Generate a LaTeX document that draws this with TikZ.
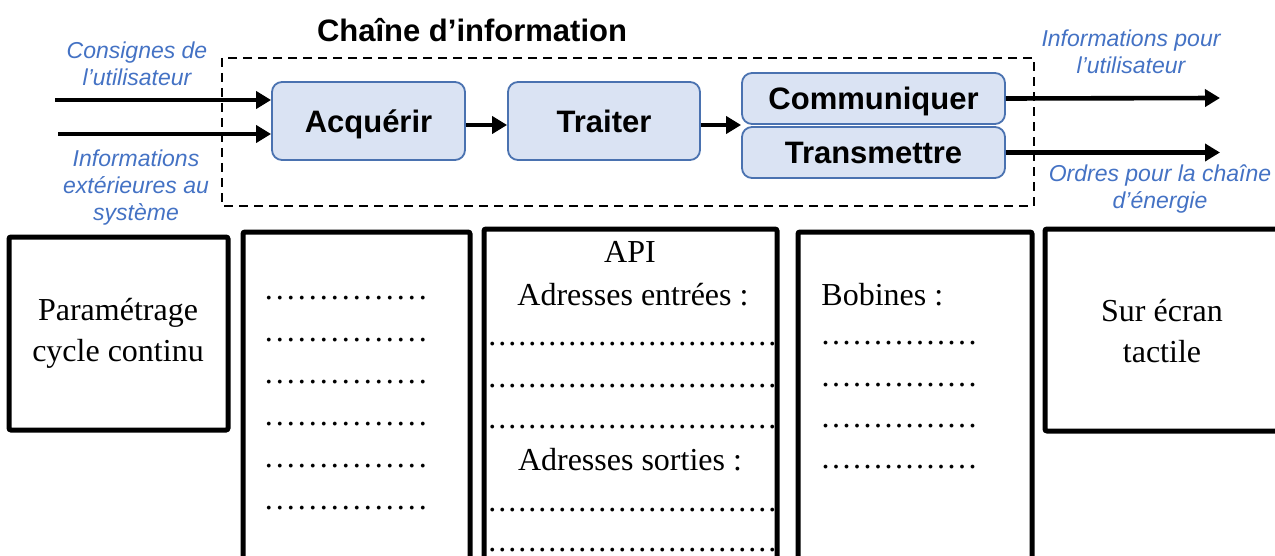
\documentclass[tikz,border=0pt]{standalone}
\usepackage{fontspec}
\setmainfont{Liberation Serif}
\setsansfont{Liberation Sans}
\usetikzlibrary{arrows.meta}
\definecolor{bleutxt}{HTML}{4472C4}
\definecolor{bleufond}{HTML}{DAE3F3}
\definecolor{bleubord}{HTML}{4A72B0}
\newcommand{\pointilles}[2]{\hbox to #1{\leaders\hbox to #2{\hss.\hss}\hfill}}

\begin{document}
\begin{tikzpicture}[x=0.5pt,y=-0.5pt,
  fonction/.style={draw=bleubord, line width=0.9pt, fill=bleufond, rounded corners=5pt, inner sep=0pt, text height=11.2pt, text depth=0pt, font=\sffamily\bfseries\fontsize{15.5}{18}\selectfont},
  flux/.style={-{Triangle[length=7.5pt,width=8.5pt]}, line width=2.3pt},
  etiquette/.style={text=bleutxt, align=center, inner sep=0pt, font=\sffamily\itshape\fontsize{11.5}{13.5}\selectfont},
  cadre/.style={line width=2.5pt, rounded corners=1pt},
  texte/.style={inner sep=0pt, font=\fontsize{16}{20.5}\selectfont}]
\useasboundingbox (0,0) rectangle (1275,556);
\clip (0,0) rectangle (1275,556);
% chaine d'information
\node[font=\sffamily\bfseries\fontsize{15.5}{18}\selectfont] (titre) at (472,30) {Chaîne d’information};
\draw[line width=1.2pt, dash pattern=on 4.5pt off 3pt] (222,58) rectangle (1034,206);
\node[fonction, minimum width=96.5pt, minimum height=39pt] (acq) at (368.5,121) {Acquérir};
\node[fonction, minimum width=96pt, minimum height=39pt] (trai) at (604,121) {Traiter};
\node[fonction, minimum width=131.5pt, minimum height=25.5pt] (comm) at (873.5,98.5) {Communiquer};
\node[fonction, minimum width=131.5pt, minimum height=25.5pt] (trans) at (873.5,152.5) {Transmettre};
\coordinate (e1) at (55,100);
\coordinate (e2) at (58,134);
\coordinate (s1) at (1220,98);
\coordinate (s2) at (1220,150);
\draw[flux] (e1) -- (e1 -| acq.west);
\draw[flux] (e2) -- (e2 -| acq.west);
\draw[flux] ([yshift=-2pt]acq.east) -- ([yshift=-2pt]trai.west);
\draw[flux] ([yshift=-2pt]trai.east) -- ([yshift=-2pt]trai.east -| comm.west);
\draw[flux] (comm.east) -- (s1);
\draw[flux] (trans.east) -- (trans.east -| s2);
\node[etiquette] (consignes) at (137,63.5) {Consignes de\\l’utilisateur};
\node[etiquette] (infoext) at (136,187.5) {Informations\\extérieures au\\système};
\node[etiquette] (infopour) at (1131,52) {Informations pour\\l’utilisateur};
\node[etiquette] (ordres) at (1160,189.5) {Ordres pour la chaîne\\d’énergie};
% cadres du bas
\draw[cadre] (9,237) rectangle (228,430);
\node[texte, align=center] (param) at (118,333) {Paramétrage\\cycle continu};
\draw[cadre] (243,232) rectangle (470,600);
\foreach \y [count=\i] in {298,340,382,424,466,508}
  \node[texte, anchor=west] (ptA\i) at (263,\y) {\pointilles{82.5pt}{5.5pt}};
\draw[cadre] (484,229) rectangle (777,600);
\node[texte, anchor=base] (api) at (630,263) {API};
\node[texte, anchor=base] (adrin) at (633,305) {Adresses entrées :};
\node[texte, anchor=base] (adrout) at (630,470) {Adresses sorties :};
\foreach \y [count=\i] in {344,386,427,510,550}
  \node[texte, anchor=west] (ptB\i) at (487,\y) {\pointilles{145pt}{5pt}};
\draw[cadre] (798,232) rectangle (1032,600);
\node[texte, anchor=base west] (bob) at (821,305) {Bobines :};
\foreach \y [count=\i] in {343,385,426,467}
  \node[texte, anchor=west] (ptC\i) at (820,\y) {\pointilles{78.75pt}{5.25pt}};
\draw[cadre] (1045,229) rectangle (1300,431);
\node[texte, align=center] (ecran) at (1162,331) {Sur écran\\tactile};
\end{tikzpicture}
\end{document}
